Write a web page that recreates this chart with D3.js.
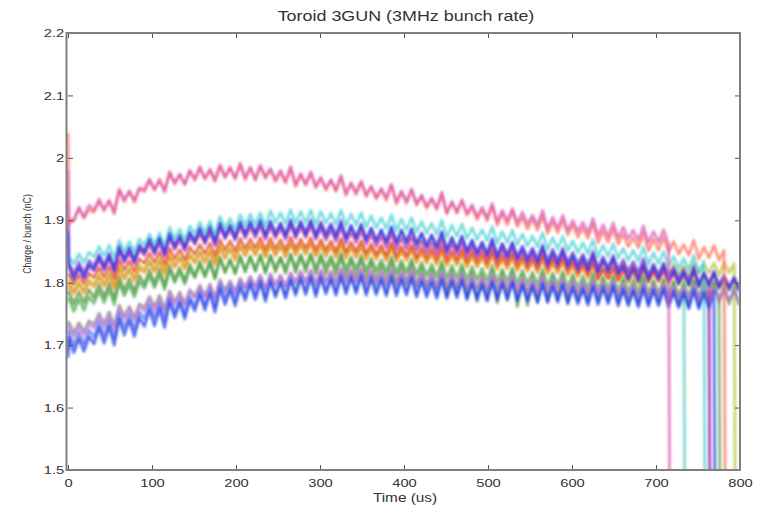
<!DOCTYPE html>
<html>
<head>
<meta charset="utf-8">
<script src="https://cdn.jsdelivr.net/npm/d3@7"></script>
<style>
  body { margin: 0; background: #fff; }
  text { font-family: "Liberation Sans", Arial, Helvetica, sans-serif; fill: #333; }
</style>
</head>
<body>
<svg id="chart" width="766" height="505"></svg>
<script>
// Toroid 3GUN charge per bunch over the macro-pulse, one trace per shot.
// Each array: value at t = 0 us, then samples every sampleStep us starting at sampleStart.
// A trailing 0 marks where the pulse ends and the charge falls away.
const sampleStart = 1;
const sampleStep = 6;

const xTicks = [0, 100, 200, 300, 400, 500, 600, 700, 800];
const xTickLabels = ["0", "100", "200", "300", "400", "500", "600", "700", "800"];
const yTicks = [1.5, 1.6, 1.7, 1.8, 1.9, 2.0, 2.1, 2.2];
const yTickLabels = ["1.5", "1.6", "1.7", "1.8", "1.9", "2", "2.1", "2.2"];

const salmon = [2.04,
1.893,1.901,1.919,1.903,1.917,1.913,1.930,1.915,1.932,1.910,
1.948,1.930,1.946,1.929,1.950,1.946,1.964,1.948,1.966,1.945,
1.976,1.958,1.973,1.957,1.979,1.964,1.983,1.966,1.980,1.962,
1.986,1.968,1.985,1.966,1.988,1.965,1.984,1.964,1.986,1.967,
1.981,1.962,1.977,1.960,1.983,1.954,1.973,1.956,1.975,1.952,
1.967,1.948,1.964,1.946,1.969,1.940,1.959,1.941,1.961,1.938,
1.953,1.934,1.949,1.932,1.956,1.926,1.945,1.927,1.948,1.924,
1.938,1.919,1.934,1.917,1.941,1.910,1.929,1.911,1.931,1.908,
1.921,1.901,1.917,1.899,1.923,1.892,1.911,1.893,1.914,1.890,
1.905,1.886,1.902,1.884,1.908,1.879,1.898,1.880,1.900,1.877,
1.893,1.873,1.888,1.871,1.895,1.864,1.883,1.865,1.886,1.862,
1.878,1.858,1.873,1.856,1.880,1.851,1.870,1.852,1.873,1.849,
1.866,1.846,1.861,1.844,1.868,1.838,1.857,1.840,1.860,1.836,
1.852,0];

const magenta = [1.98,
1.903,1.899,1.921,1.906,1.924,1.916,1.934,1.918,1.931,1.914,
1.950,1.933,1.947,1.932,1.952,1.949,1.966,1.950,1.963,1.948,
1.978,1.960,1.974,1.958,1.980,1.966,1.986,1.967,1.982,1.965,
1.989,1.970,1.984,1.968,1.992,1.968,1.985,1.966,1.988,1.970,
1.983,1.965,1.980,1.962,1.986,1.957,1.975,1.958,1.978,1.955,
1.969,1.951,1.965,1.949,1.972,1.943,1.960,1.945,1.963,1.941,
1.955,1.937,1.951,1.936,1.958,1.929,1.947,1.930,1.950,1.927,
1.941,1.922,1.936,1.920,1.945,1.912,1.930,1.914,1.933,1.911,
1.925,1.906,1.921,1.904,1.927,1.898,1.916,1.899,1.919,1.896,
1.913,1.894,1.908,1.892,1.916,1.886,1.905,1.887,1.908,1.884,
1.900,1.882,1.897,1.880,1.903,1.875,1.893,1.874,1.896,1.872,
1.889,1.870,1.884,1.868,1.891,1.864,1.882,1.865,1.885,1.862,
0];

const cyan = [1.85,
1.842,1.830,1.846,1.832,1.849,1.841,1.858,1.842,1.860,1.840,
1.868,1.850,1.866,1.849,1.870,1.860,1.878,1.861,1.880,1.858,
1.889,1.870,1.886,1.868,1.891,1.878,1.897,1.880,1.899,1.877,
1.906,1.887,1.903,1.885,1.909,1.891,1.910,1.893,1.912,1.890,
1.915,1.896,1.912,1.894,1.917,1.895,1.914,1.896,1.916,1.893,
1.914,1.895,1.911,1.893,1.916,1.891,1.910,1.892,1.912,1.889,
1.907,1.888,1.904,1.886,1.909,1.883,1.902,1.884,1.904,1.881,
1.898,1.879,1.895,1.877,1.900,1.873,1.892,1.874,1.894,1.871,
1.888,1.869,1.885,1.867,1.890,1.863,1.882,1.864,1.884,1.861,
1.878,1.859,1.875,1.857,1.880,1.853,1.872,1.854,1.874,1.851,
1.867,1.848,1.864,1.846,1.869,1.841,1.860,1.842,1.862,1.839,
1.855,1.836,1.852,1.834,1.857,1.829,1.848,1.830,1.850,1.827,
1.842,1.823,1.839,1.821,1.844,1.816,1.835,
0];

const teal = [1.83,
1.827,1.812,1.826,1.813,1.829,1.824,1.840,1.825,1.842,1.822,
1.852,1.836,1.850,1.835,1.853,1.847,1.864,1.848,1.866,1.845,
1.873,1.856,1.870,1.855,1.874,1.863,1.881,1.864,1.882,1.862,
1.889,1.872,1.886,1.870,1.891,1.874,1.892,1.875,1.893,1.872,
1.893,1.876,1.891,1.874,1.895,1.876,1.894,1.877,1.896,1.874,
1.892,1.875,1.890,1.873,1.894,1.870,1.888,1.871,1.889,1.868,
1.883,1.866,1.881,1.864,1.885,1.860,1.878,1.861,1.879,1.858,
1.873,1.856,1.871,1.854,1.875,1.849,1.867,1.850,1.868,1.847,
1.862,1.845,1.860,1.843,1.864,1.840,1.858,1.841,1.859,1.838,
1.854,1.837,1.852,1.835,1.856,1.831,1.849,1.832,1.850,1.829,
1.845,1.828,1.843,1.826,1.847,1.822,1.840,1.823,1.841,1.820,
1.835,1.818,1.833,1.816,1.837,1.812,1.830,1.813,1.831,1.810,
1.825,1.808,1.823,
0];

const purple = [1.93,
1.833,1.815,1.834,1.816,1.836,1.827,1.846,1.828,1.848,1.825,
1.859,1.840,1.857,1.838,1.861,1.851,1.870,1.852,1.872,1.849,
1.879,1.860,1.876,1.858,1.881,1.868,1.888,1.869,1.890,1.866,
1.896,1.877,1.893,1.875,1.898,1.878,1.897,1.879,1.899,1.876,
1.899,1.880,1.896,1.878,1.901,1.880,1.899,1.881,1.901,1.878,
1.898,1.879,1.895,1.877,1.900,1.872,1.891,1.873,1.893,1.870,
1.887,1.868,1.884,1.866,1.889,1.865,1.884,1.866,1.886,1.863,
1.880,1.861,1.877,1.859,1.882,1.853,1.872,1.854,1.874,1.851,
1.868,1.849,1.865,1.847,1.870,1.844,1.863,1.845,1.865,1.842,
1.859,1.840,1.856,1.838,1.861,1.835,1.854,1.836,1.856,1.833,
1.849,1.830,1.846,1.828,1.851,1.823,1.842,1.824,1.844,1.821,
1.837,1.818,1.834,1.816,1.839,1.811,1.830,1.812,1.832,1.809,
1.825,1.806,1.822,1.804,1.827,1.798,1.817,1.799,1.819,1.796,
1.812,1.793,1.809,1.791];

const deepMagenta = [1.90,
1.824,1.806,1.823,1.807,1.826,1.819,1.837,1.820,1.839,1.817,
1.851,1.832,1.848,1.830,1.853,1.844,1.862,1.845,1.864,1.842,
1.872,1.853,1.869,1.851,1.874,1.861,1.879,1.862,1.881,1.859,
1.889,1.870,1.886,1.868,1.891,1.871,1.889,1.872,1.891,1.869,
1.890,1.871,1.887,1.869,1.892,1.871,1.889,1.872,1.891,1.869,
1.887,1.868,1.884,1.866,1.889,1.863,1.881,1.864,1.883,1.861,
1.877,1.858,1.874,1.856,1.879,1.853,1.871,1.854,1.873,1.851,
1.867,1.848,1.864,1.846,1.869,1.844,1.862,1.845,1.864,1.842,
1.859,1.840,1.856,1.838,1.861,1.836,1.854,1.837,1.856,1.834,
1.850,1.831,1.847,1.829,1.852,1.826,1.844,1.827,1.846,1.824,
1.840,1.821,1.837,1.819,1.842,1.816,1.834,1.817,1.836,1.814,
1.830,1.811,1.827,1.809,1.832,1.806,1.824,1.807,1.826,1.804,
1.820,1.801,1.817,1.799,1.822,1.797,1.815,1.798,
0];

const blueUpper = [1.88,
1.828,1.806,1.827,1.808,1.830,1.821,1.843,1.822,1.845,1.819,
1.857,1.835,1.855,1.833,1.859,1.848,1.870,1.849,1.872,1.846,
1.879,1.857,1.876,1.855,1.881,1.865,1.887,1.866,1.889,1.863,
1.895,1.873,1.892,1.871,1.897,1.877,1.899,1.878,1.901,1.875,
1.898,1.876,1.895,1.874,1.900,1.875,1.897,1.876,1.899,1.873,
1.895,1.873,1.892,1.871,1.897,1.870,1.892,1.871,1.894,1.868,
1.888,1.866,1.885,1.864,1.890,1.863,1.885,1.864,1.887,1.861,
1.879,1.857,1.876,1.855,1.881,1.851,1.873,1.852,1.875,1.849,
1.868,1.846,1.865,1.844,1.870,1.840,1.862,1.841,1.864,1.838,
1.856,1.834,1.853,1.832,1.858,1.828,1.850,1.829,1.852,1.826,
1.844,1.822,1.841,1.820,1.846,1.816,1.838,1.817,1.840,1.814,
1.826,1.804,1.823,1.802,1.828,1.804,1.826,1.805,1.828,1.802,
1.820,1.798,1.817,1.796,1.822,1.793,1.815,1.794,1.817,1.791,
1.810,1.788,1.807,1.786];

const red = [1.81,
1.813,1.797,1.812,1.798,1.815,1.808,1.824,1.809,1.826,1.806,
1.837,1.820,1.835,1.818,1.838,1.831,1.847,1.832,1.849,1.829,
1.855,1.838,1.853,1.836,1.857,1.845,1.861,1.846,1.863,1.843,
1.869,1.852,1.867,1.850,1.871,1.854,1.870,1.855,1.872,1.852,
1.871,1.854,1.869,1.852,1.873,1.854,1.870,1.855,1.872,1.852,
1.869,1.852,1.867,1.850,1.871,1.849,1.865,1.850,1.867,1.847,
1.862,1.845,1.860,1.843,1.864,1.842,1.858,1.843,1.860,1.840,
1.856,1.839,1.854,1.837,1.858,1.835,1.851,1.836,1.853,1.833,
1.850,1.833,1.848,1.831,1.852,1.829,1.845,1.830,1.847,1.827,
1.842,1.825,1.840,1.823,1.844,1.822,1.838,1.823,1.840,1.820,
1.832,1.815,1.830,1.813,1.834,1.806,1.822,1.807,1.824,1.804,
1.823,1.806,1.821,1.804,1.825,1.802,1.818,1.803,1.820,1.800,
1.816,1.799,1.814,1.797,1.818,1.795,1.811,1.796,1.813,1.793,
1.809,1.792,1.807,1.790];

const orange = [1.79,
1.798,1.782,1.797,1.783,1.800,1.793,1.809,1.794,1.811,1.791,
1.822,1.805,1.820,1.803,1.823,1.816,1.832,1.817,1.834,1.814,
1.841,1.824,1.839,1.822,1.843,1.831,1.847,1.832,1.849,1.829,
1.855,1.838,1.853,1.836,1.857,1.843,1.859,1.844,1.861,1.841,
1.860,1.843,1.858,1.841,1.862,1.844,1.860,1.845,1.862,1.842,
1.859,1.842,1.857,1.840,1.861,1.839,1.855,1.840,1.857,1.837,
1.854,1.837,1.852,1.835,1.856,1.834,1.850,1.835,1.852,1.832,
1.848,1.831,1.846,1.829,1.850,1.827,1.843,1.828,1.845,1.825,
1.842,1.825,1.840,1.823,1.844,1.821,1.837,1.822,1.839,1.819,
1.835,1.818,1.833,1.816,1.837,1.814,1.830,1.815,1.832,1.812,
1.826,1.809,1.824,1.807,1.828,1.805,1.821,1.806,1.823,1.803,
1.817,1.800,1.815,1.798,1.819,1.800,1.816,1.801,1.818,1.798,
1.814,1.797,1.812,1.795,1.816,1.795,1.811,1.796,1.813,1.793,
1.809,1.792,1.807,1.790];

const green = [1.77,
1.775,1.754,1.774,1.756,1.777,1.767,1.788,1.768,1.790,1.765,
1.800,1.779,1.797,1.777,1.802,1.791,1.812,1.792,1.814,1.789,
1.821,1.800,1.818,1.798,1.823,1.808,1.829,1.809,1.831,1.806,
1.839,1.818,1.836,1.816,1.841,1.820,1.841,1.821,1.843,1.818,
1.844,1.823,1.841,1.821,1.846,1.824,1.845,1.825,1.847,1.822,
1.846,1.825,1.843,1.823,1.848,1.821,1.842,1.822,1.844,1.819,
1.840,1.819,1.837,1.817,1.842,1.815,1.836,1.816,1.838,1.813,
1.833,1.811,1.830,1.809,1.835,1.806,1.828,1.807,1.830,1.804,
1.826,1.804,1.823,1.802,1.828,1.800,1.822,1.801,1.824,1.798,
1.820,1.798,1.817,1.796,1.822,1.794,1.816,1.795,1.818,1.792,
1.814,1.792,1.811,1.790,1.816,1.788,1.810,1.789,1.812,1.786,
1.808,1.786,1.805,1.784,1.810,1.782,1.804,1.783,1.806,1.780,
1.802,1.780,1.799,1.778,1.804,1.777,1.799,1.778,1.801,1.775,
0];

const olive = [1.78,
1.787,1.766,1.786,1.768,1.789,1.776,1.798,1.777,1.800,1.774,
1.810,1.787,1.807,1.785,1.812,1.797,1.821,1.798,1.823,1.795,
1.828,1.804,1.825,1.802,1.830,1.810,1.835,1.811,1.837,1.808,
1.841,1.816,1.838,1.814,1.843,1.817,1.843,1.818,1.845,1.815,
1.843,1.817,1.840,1.815,1.845,1.816,1.843,1.817,1.845,1.814,
1.841,1.814,1.838,1.812,1.843,1.808,1.837,1.809,1.839,1.806,
1.834,1.804,1.830,1.802,1.836,1.798,1.830,1.799,1.832,1.795,
1.826,1.792,1.822,1.790,1.828,1.778,1.821,1.781,1.823,1.775,
1.818,1.770,1.814,1.772,1.820,1.768,1.816,1.772,1.818,1.762,
1.813,1.764,1.809,1.768,1.815,1.770,1.810,1.772,1.812,1.768,
1.807,1.772,1.803,1.770,1.809,1.773,1.805,1.774,1.807,1.771,
1.802,1.770,1.798,1.768,1.804,1.771,1.801,1.772,1.803,1.769,
1.800,1.769,1.796,1.767,1.802,1.770,1.799,1.771,1.801,1.768,
1.797,1.766,1.793,1.764];

const gray = [1.73,
1.737,1.719,1.736,1.721,1.739,1.733,1.751,1.734,1.753,1.731,
1.764,1.746,1.762,1.744,1.766,1.760,1.778,1.761,1.780,1.758,
1.787,1.769,1.785,1.767,1.789,1.778,1.796,1.779,1.798,1.776,
1.805,1.787,1.803,1.785,1.807,1.792,1.810,1.793,1.812,1.790,
1.814,1.796,1.812,1.794,1.816,1.799,1.817,1.800,1.819,1.797,
1.819,1.801,1.817,1.799,1.821,1.800,1.818,1.801,1.820,1.798,
1.816,1.798,1.814,1.796,1.818,1.797,1.815,1.798,1.817,1.795,
1.813,1.795,1.811,1.793,1.815,1.793,1.811,1.794,1.813,1.791,
1.809,1.791,1.807,1.789,1.811,1.788,1.806,1.789,1.808,1.786,
1.804,1.786,1.802,1.784,1.806,1.783,1.801,1.784,1.803,1.781,
1.800,1.782,1.798,1.780,1.802,1.780,1.798,1.781,1.800,1.778,
1.796,1.778,1.794,1.776,1.798,1.777,1.795,1.778,1.797,1.775,
1.793,1.775,1.791,1.773,1.795,1.773,1.791,1.774,1.793,1.771,
1.789,1.771,1.787,1.769];

const orchid = [1.72,
1.731,1.713,1.730,1.715,1.733,1.727,1.745,1.728,1.747,1.725,
1.759,1.741,1.757,1.739,1.761,1.754,1.772,1.755,1.774,1.752,
1.783,1.765,1.781,1.763,1.785,1.776,1.794,1.777,1.796,1.774,
1.804,1.786,1.802,1.784,1.806,1.792,1.810,1.793,1.812,1.790,
1.814,1.796,1.812,1.794,1.816,1.801,1.819,1.802,1.821,1.799,
1.821,1.803,1.819,1.801,1.823,1.803,1.821,1.804,1.823,1.801,
1.820,1.802,1.818,1.800,1.822,1.801,1.819,1.802,1.821,1.799,
1.816,1.798,1.814,1.796,1.818,1.796,1.814,1.797,1.816,1.794,
1.811,1.793,1.809,1.791,1.813,1.791,1.809,1.792,1.811,1.789,
1.807,1.789,1.805,1.787,1.809,1.787,1.805,1.788,1.807,1.785,
1.803,1.785,1.801,1.783,1.805,1.783,1.801,1.784,1.803,1.781,
1.798,1.780,1.796,1.778,1.800,1.778,1.796,1.779,1.798,1.776,
1.794,1.776,1.792,1.774,1.796,1.774,1.792,1.775,1.794,1.772,
1.789,1.771,1.787,1.769];

const blueLow = [1.68,
1.712,1.688,1.711,1.690,1.714,1.702,1.728,1.703,1.730,1.700,
1.742,1.716,1.740,1.714,1.744,1.730,1.757,1.731,1.759,1.728,
1.770,1.744,1.768,1.742,1.772,1.755,1.782,1.756,1.784,1.753,
1.791,1.765,1.789,1.763,1.793,1.772,1.799,1.773,1.801,1.770,
1.803,1.777,1.801,1.775,1.805,1.780,1.807,1.781,1.809,1.778,
1.808,1.782,1.806,1.780,1.810,1.782,1.809,1.783,1.811,1.780,
1.807,1.781,1.805,1.779,1.809,1.779,1.806,1.780,1.808,1.777,
1.803,1.777,1.801,1.775,1.805,1.775,1.802,1.776,1.804,1.773,
1.799,1.773,1.797,1.771,1.801,1.772,1.799,1.773,1.801,1.770,
1.796,1.770,1.794,1.768,1.798,1.768,1.795,1.769,1.797,1.766,
1.792,1.766,1.790,1.764,1.794,1.765,1.792,1.766,1.794,1.763,
1.789,1.763,1.787,1.761,1.791,1.762,1.789,1.763,1.791,1.760,
1.786,1.760,1.784,1.758,1.788,1.758,1.785,1.759,1.787,
0];

const cornflower = [1.69,
1.722,1.699,1.721,1.701,1.724,1.713,1.737,1.714,1.739,1.711,
1.751,1.727,1.749,1.725,1.753,1.742,1.765,1.743,1.767,1.740,
1.776,1.752,1.774,1.750,1.778,1.763,1.787,1.764,1.789,1.761,
1.798,1.774,1.796,1.772,1.800,1.779,1.803,1.780,1.805,1.777,
1.806,1.782,1.804,1.780,1.808,1.786,1.810,1.787,1.812,1.784,
1.812,1.788,1.810,1.786,1.814,1.788,1.812,1.789,1.814,1.786,
1.811,1.787,1.809,1.785,1.813,1.785,1.809,1.786,1.811,1.783,
1.807,1.783,1.805,1.781,1.809,1.781,1.805,1.782,1.807,1.779,
1.802,1.778,1.800,1.776,1.804,1.777,1.801,1.778,1.803,1.775,
1.799,1.775,1.797,1.773,1.801,1.773,1.797,1.774,1.799,1.771,
1.795,1.771,1.793,1.769,1.797,1.770,1.794,1.771,1.796,1.768,
1.792,1.768,1.790,1.766,1.794,1.766,1.790,1.767,1.792,1.764,
1.788,1.764,1.786,1.762,1.790,1.762,1.786,1.763,
0];

const yellowGreen = [1.80,
1.803,1.787,1.802,1.788,1.805,1.798,1.814,1.799,1.816,1.796,
1.827,1.810,1.825,1.808,1.828,1.821,1.837,1.822,1.839,1.819,
1.845,1.828,1.843,1.826,1.847,1.835,1.851,1.836,1.853,1.833,
1.860,1.843,1.858,1.841,1.862,1.845,1.861,1.846,1.863,1.843,
1.863,1.846,1.861,1.844,1.865,1.847,1.863,1.848,1.865,1.845,
1.864,1.847,1.862,1.845,1.866,1.844,1.860,1.845,1.862,1.842,
1.858,1.841,1.856,1.839,1.860,1.838,1.854,1.839,1.856,1.836,
1.851,1.834,1.849,1.832,1.853,1.831,1.847,1.832,1.849,1.829,
1.845,1.828,1.843,1.826,1.847,1.825,1.841,1.826,1.843,1.823,
1.839,1.822,1.837,1.820,1.841,1.819,1.835,1.820,1.837,1.817,
1.834,1.817,1.832,1.815,1.836,1.815,1.831,1.816,1.833,1.813,
1.829,1.812,1.827,1.810,1.831,1.812,1.828,1.813,1.830,1.810,
1.830,1.813,1.828,1.811,1.832,1.814,1.830,1.815,1.832,1.812,
1.833,1.816,1.831,
0];

// Drawing order: first listed is drawn underneath.
const traces = [
  { values: yellowGreen, color: "#b3c234" },
  { values: olive,       color: "#4f8f2f" },
  { values: orange,      color: "#ef8a1c" },
  { values: teal,        color: "#5cc8b8" },
  { values: red,         color: "#e8351f" },
  { values: green,       color: "#46a546" },
  { values: gray,        color: "#7d7d7d" },
  { values: orchid,      color: "#c77ddb" },
  { values: cornflower,  color: "#4d6ff0" },
  { values: deepMagenta, color: "#c32d9e" },
  { values: cyan,        color: "#45d0d4" },
  { values: purple,      color: "#8b3fd9" },
  { values: blueUpper,   color: "#2a3fe0" },
  { values: blueLow,     color: "#1f3ae6" },
  { values: salmon,      color: "#ff6b50" },
  { values: magenta,     color: "#d957b8" }
];

const plot = { left: 68, right: 740, top: 33, bottom: 470 };
const stretch = 1.28; // glyphs are drawn wide

const svg = d3.select("#chart");
const x = d3.scaleLinear().domain([0, 800]).range([plot.left, plot.right]);
const y = d3.scaleLinear().domain([1.5, 2.2]).range([plot.bottom, plot.top]);

const defs = svg.append("defs");
defs.append("clipPath").attr("id", "plotClip")
  .append("rect")
  .attr("x", plot.left - 1).attr("y", plot.top)
  .attr("width", plot.right - plot.left + 1).attr("height", plot.bottom - plot.top);
defs.append("filter").attr("id", "soft")
  .attr("x", "-5%").attr("y", "-5%").attr("width", "110%").attr("height", "110%")
  .append("feGaussianBlur").attr("stdDeviation", 0.9);

const timeAt = i => (i === 0 ? 0 : sampleStart + (i - 1) * sampleStep);
const line = d3.line()
  .x((d, i) => x(timeAt(i)))
  .y(d => y(d));

svg.append("g")
  .attr("clip-path", "url(#plotClip)")
  .append("g")
  .attr("filter", "url(#soft)")
  .selectAll("path")
  .data(traces)
  .join("path")
  .attr("d", d => line(d.values))
  .attr("fill", "none")
  .attr("stroke", d => d.color)
  .attr("stroke-width", 2.8)
  .attr("stroke-opacity", 0.72)
  .attr("stroke-linejoin", "round");

// Axes: inward ticks on all four sides
const tickLen = 5;
const gBottom = svg.append("g").attr("transform", `translate(0,${plot.bottom})`)
  .call(d3.axisBottom(x).tickValues(xTicks).tickFormat((d, i) => xTickLabels[i])
    .tickSize(-tickLen).tickSizeOuter(0).tickPadding(9));
const gTop = svg.append("g").attr("transform", `translate(0,${plot.top})`)
  .call(d3.axisTop(x).tickValues(xTicks).tickFormat("").tickSize(-tickLen).tickSizeOuter(0));
const gLeft = svg.append("g").attr("transform", `translate(${plot.left},0)`)
  .call(d3.axisLeft(y).tickValues(yTicks).tickFormat((d, i) => yTickLabels[i])
    .tickSize(-tickLen).tickSizeOuter(0).tickPadding(3));
const gRight = svg.append("g").attr("transform", `translate(${plot.right},0)`)
  .call(d3.axisRight(y).tickValues(yTicks).tickFormat("").tickSize(-tickLen).tickSizeOuter(0));

[gBottom, gTop, gLeft, gRight].forEach(g => {
  g.select(".domain").remove();
  g.selectAll(".tick line").attr("stroke", "#555").attr("stroke-width", 1);
  g.selectAll(".tick text")
    .attr("fill", "#333")
    .style("font-family", '"Liberation Sans", Arial, sans-serif')
    .style("font-size", "11.5px")
    .attr("transform", `scale(${stretch},1)`);
});

// Frame
svg.append("rect")
  .attr("x", plot.left - 1.5).attr("y", plot.top)
  .attr("width", plot.right - plot.left + 1.5).attr("height", plot.bottom - plot.top)
  .attr("fill", "none").attr("stroke", "#7f7f7f").attr("stroke-width", 2);

// Title and axis labels
svg.append("text")
  .attr("transform", `translate(406,21) scale(${stretch},1)`)
  .attr("text-anchor", "middle")
  .style("font-size", "14px")
  .text("Toroid 3GUN (3MHz bunch rate)");

svg.append("text")
  .attr("transform", `translate(405,502) scale(${stretch},1)`)
  .attr("text-anchor", "middle")
  .style("font-size", "12px")
  .text("Time (us)");

svg.append("text")
  .attr("transform", `translate(31,234) scale(${stretch},1) rotate(-90)`)
  .attr("text-anchor", "middle")
  .style("font-size", "8.8px")
  .text("Charge / bunch (nC)");
</script>
</body>
</html>
